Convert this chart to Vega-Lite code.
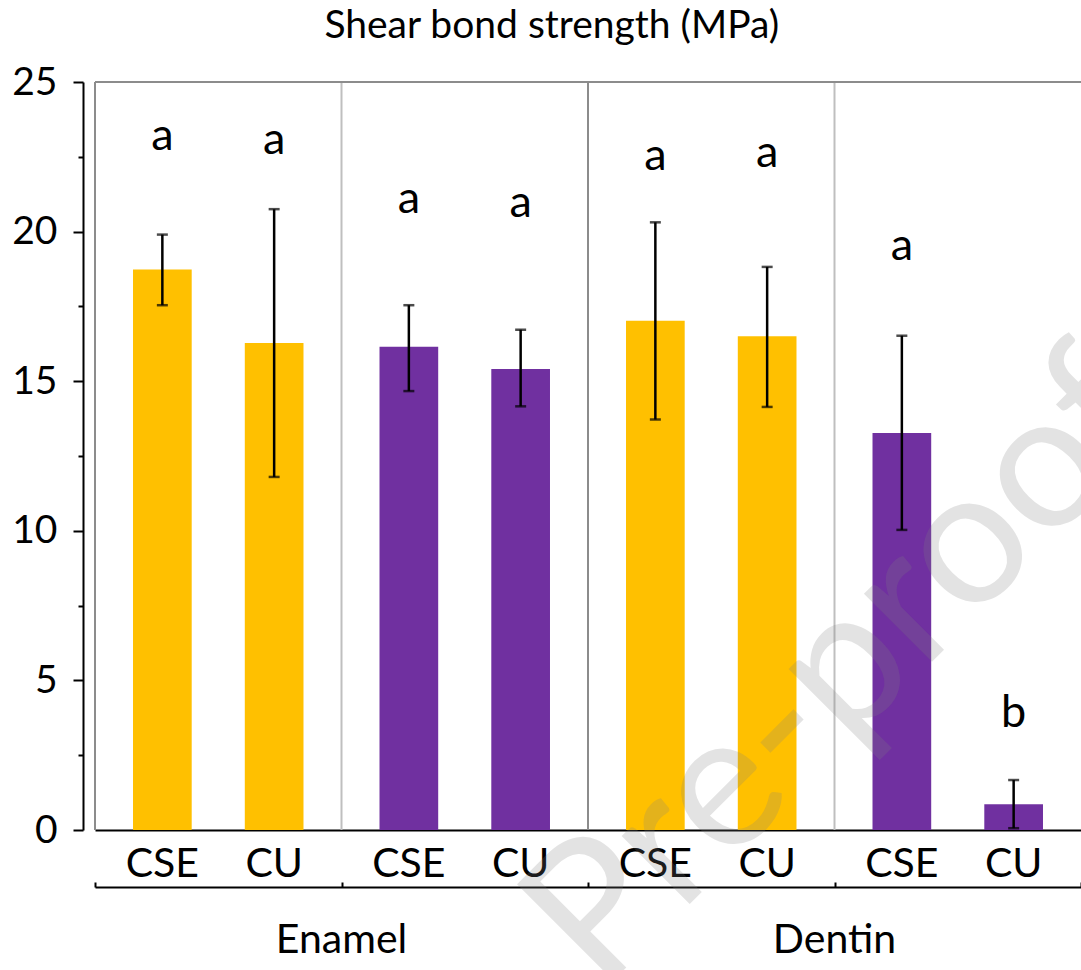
{
  "$schema": "https://vega.github.io/schema/vega-lite/v6.json",
  "width": 986,
  "height": 748,
  "autosize": "none",
  "padding": {"left": 95, "top": 82, "right": 0, "bottom": 140},
  "background": "white",
  "config": {"view": {"stroke": null}, "font": "Lato"},
  "datasets": {
    "bars": [
      {"group": "Enamel 1", "mode": "CSE", "series": "S1", "mean": 18.73, "lo": 17.54, "hi": 19.9, "letter": "a", "ly": 22.72},
      {"group": "Enamel 1", "mode": "CU", "series": "S1", "mean": 16.28, "lo": 11.8, "hi": 20.75, "letter": "a", "ly": 22.61},
      {"group": "Enamel 2", "mode": "CSE", "series": "S2", "mean": 16.15, "lo": 14.67, "hi": 17.54, "letter": "a", "ly": 20.62},
      {"group": "Enamel 2", "mode": "CU", "series": "S2", "mean": 15.41, "lo": 14.16, "hi": 16.72, "letter": "a", "ly": 20.49},
      {"group": "Dentin 1", "mode": "CSE", "series": "S1", "mean": 17.02, "lo": 13.72, "hi": 20.31, "letter": "a", "ly": 22.07},
      {"group": "Dentin 1", "mode": "CU", "series": "S1", "mean": 16.5, "lo": 14.14, "hi": 18.82, "letter": "a", "ly": 22.16},
      {"group": "Dentin 2", "mode": "CSE", "series": "S2", "mean": 13.27, "lo": 10.03, "hi": 16.52, "letter": "a", "ly": 19.04},
      {"group": "Dentin 2", "mode": "CU", "series": "S2", "mean": 0.86, "lo": 0.06, "hi": 1.67, "letter": "b", "ly": 3.45}
    ],
    "tissues": [
      {"group": "Enamel 1", "label": "Enamel"},
      {"group": "Dentin 1", "label": "Dentin"}
    ],
    "notes": [
      {"title": "Shear bond strength (MPa)", "watermark": "Pre-proof"}
    ]
  },
  "data": {"name": "bars"},
  "layer": [
    {
      "layer": [
        {
          "transform": [{"filter": "datum.mode === 'CSE' && datum.series === 'S2'"}],
          "mark": {"type": "rule", "color": "#bfbfbf", "strokeWidth": 2},
          "encoding": {"x": {"field": "group", "type": "nominal", "bandPosition": 0, "sort": ["Enamel 1", "Enamel 2", "Dentin 1", "Dentin 2"]}}
        },
        {
          "transform": [{"filter": "datum.mode === 'CSE' && datum.series === 'S1'"}],
          "mark": {"type": "rule", "color": "#8c8c8c", "strokeWidth": 2},
          "encoding": {"x": {"field": "group", "type": "nominal", "bandPosition": 0, "sort": ["Enamel 1", "Enamel 2", "Dentin 1", "Dentin 2"]}}
        },
        {
          "data": {"name": "notes"},
          "mark": {"type": "rule", "color": "#8c8c8c", "strokeWidth": 2},
          "encoding": {"y": {"datum": 25, "type": "quantitative"}}
        },
        {
          "mark": {"type": "bar"},
          "encoding": {
            "x": {"field": "group", "type": "nominal", "sort": ["Enamel 1", "Enamel 2", "Dentin 1", "Dentin 2"],
                  "scale": {"paddingInner": 0, "paddingOuter": 0},
                  "axis": {"orient": "bottom", "labels": false, "ticks": false, "domainColor": "black", "domainWidth": 2, "title": null, "grid": false}},
            "xOffset": {"field": "mode", "type": "nominal", "sort": ["CSE", "CU"], "scale": {"paddingInner": 0.475, "paddingOuter": 0.34}},
            "y": {"field": "mean", "type": "quantitative", "scale": {"domain": [0, 25], "nice": false},
                  "axis": {"orient": "left", "offset": 12, "values": [0, 5, 10, 15, 20, 25], "labelFontSize": 39, "labelFont": "Lato", "labelColor": "black", "labelPadding": 16, "tickSize": 10, "tickWidth": 2, "tickColor": "black", "domainColor": "black", "domainWidth": 2, "grid": false, "title": null}},
            "color": {"field": "series", "type": "nominal", "scale": {"domain": ["S1", "S2"], "range": ["#FFC000", "#7030A0"]}, "legend": null}
          }
        },
        {
          "mark": {"type": "rule", "color": "black", "strokeWidth": 2.5},
          "encoding": {
            "x": {"field": "group", "type": "nominal", "sort": ["Enamel 1", "Enamel 2", "Dentin 1", "Dentin 2"]},
            "xOffset": {"field": "mode", "type": "nominal", "sort": ["CSE", "CU"]},
            "y": {"field": "lo", "type": "quantitative"},
            "y2": {"field": "hi"}
          }
        },
        {
          "mark": {"type": "tick", "color": "black", "size": 11, "thickness": 2.5},
          "encoding": {
            "x": {"field": "group", "type": "nominal", "sort": ["Enamel 1", "Enamel 2", "Dentin 1", "Dentin 2"]},
            "xOffset": {"field": "mode", "type": "nominal", "sort": ["CSE", "CU"]},
            "y": {"field": "hi", "type": "quantitative"}
          }
        },
        {
          "mark": {"type": "tick", "color": "black", "size": 11, "thickness": 2.5},
          "encoding": {
            "x": {"field": "group", "type": "nominal", "sort": ["Enamel 1", "Enamel 2", "Dentin 1", "Dentin 2"]},
            "xOffset": {"field": "mode", "type": "nominal", "sort": ["CSE", "CU"]},
            "y": {"field": "lo", "type": "quantitative"}
          }
        },
        {
          "mark": {"type": "text", "font": "Lato", "fontSize": 45, "color": "black", "baseline": "alphabetic", "align": "center"},
          "encoding": {
            "x": {"field": "group", "type": "nominal", "sort": ["Enamel 1", "Enamel 2", "Dentin 1", "Dentin 2"]},
            "xOffset": {"field": "mode", "type": "nominal", "sort": ["CSE", "CU"]},
            "y": {"field": "ly", "type": "quantitative"},
            "text": {"field": "letter"}
          }
        },
        {
          "mark": {"type": "text", "font": "Lato", "fontSize": 41, "color": "black", "baseline": "alphabetic", "align": "center", "dy": 47},
          "encoding": {
            "x": {"field": "group", "type": "nominal", "sort": ["Enamel 1", "Enamel 2", "Dentin 1", "Dentin 2"]},
            "xOffset": {"field": "mode", "type": "nominal", "sort": ["CSE", "CU"]},
            "y": {"datum": 0, "type": "quantitative"},
            "text": {"field": "mode"}
          }
        },
        {
          "data": {"name": "tissues"},
          "mark": {"type": "text", "font": "Lato", "fontSize": 41, "color": "black", "baseline": "alphabetic", "align": "center", "dy": 123},
          "encoding": {
            "x": {"field": "group", "type": "nominal", "bandPosition": 1, "sort": ["Enamel 1", "Enamel 2", "Dentin 1", "Dentin 2"]},
            "y": {"datum": 0, "type": "quantitative"},
            "text": {"field": "label"}
          }
        },
        {
          "data": {"name": "notes"},
          "mark": {"type": "text", "font": "Lato", "fontSize": 39, "color": "black", "baseline": "alphabetic", "align": "center", "dy": -44, "dx": 87},
          "encoding": {
            "x": {"datum": "Enamel 2", "type": "nominal"},
            "y": {"datum": 25, "type": "quantitative"},
            "text": {"field": "title"}
          }
        },
        {
          "data": {"name": "notes"},
          "mark": {"type": "text", "font": "Lato", "fontSize": 190, "fill": "#7f7f7f", "fillOpacity": 0.22, "angle": -45, "align": "center", "baseline": "middle", "dx": 187},
          "encoding": {
            "x": {"datum": "Dentin 1", "type": "nominal"},
            "y": {"datum": 0.94, "type": "quantitative"},
            "text": {"field": "watermark"}
          }
        }
      ]
    },
    {
      "data": {"name": "notes"},
      "mark": {"type": "point", "opacity": 0},
      "encoding": {
        "x": {"datum": "Enamel 1", "type": "nominal", "sort": ["Enamel 1", "Enamel 2", "Dentin 1", "Dentin 2"],
              "axis": {"orient": "bottom", "offset": 57, "labels": false, "ticks": true, "tickBand": "extent", "tickSize": -5, "tickWidth": 2, "tickColor": "black", "domainColor": "black", "domainWidth": 2, "title": null, "grid": false}},
        "y": {"datum": 0, "type": "quantitative",
              "axis": {"orient": "left", "offset": 12, "values": [2.5, 7.5, 12.5, 17.5, 22.5], "labels": false, "domain": false, "tickSize": 5, "tickWidth": 2, "tickColor": "black", "title": null, "grid": false}}
      }
    }
  ],
  "resolve": {"axis": {"x": "independent", "y": "independent"}}
}
